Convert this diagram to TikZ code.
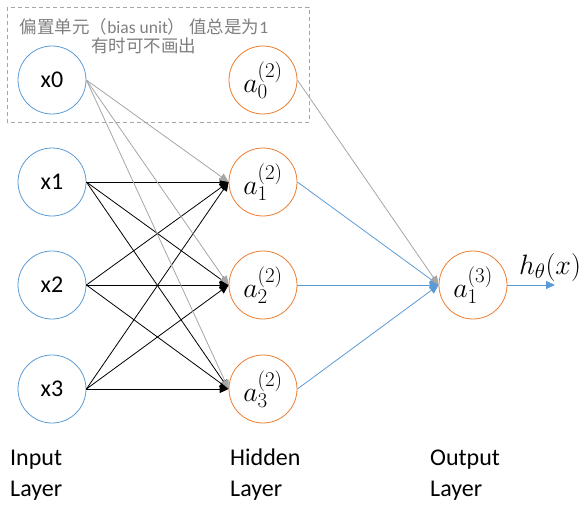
\RequirePackage{fix-cm}
\documentclass[tikz,border=0pt]{standalone}
\usepackage{fontspec}
\setmainfont{Carlito}
\newfontfamily\cjk{Noto Sans CJK SC}
\usetikzlibrary{arrows.meta}
\DeclareMathSizes{28}{28}{21}{16}
\definecolor{inblue}{HTML}{5B9BD5}
\definecolor{hidorange}{HTML}{ED7D31}
\definecolor{biasgray}{HTML}{A6A6A6}
\definecolor{notegray}{HTML}{7F7F7F}

\begin{document}
\begin{tikzpicture}[x=1pt,y=-1pt,
    unit/.style={circle, minimum size=68pt, inner sep=0pt, line width=0.8pt, font=\fontsize{24}{28}\selectfont},
    inunit/.style={unit, draw=inblue},
    hidunit/.style={unit, draw=hidorange, font=\fontsize{28}{32}\selectfont},
    link/.style={line width=0.8pt, -{Triangle[length=9pt,width=8pt]}},
    layername/.style={anchor=west, align=left, inner sep=0pt, font=\fontsize{24}{31}\selectfont}]
    \useasboundingbox (0,0) rectangle (586,508);

    % bias box
    \draw[biasgray, line width=0.8pt, dash pattern=on 4pt off 3pt] (7,7) rectangle (309,122);
    \node[text=notegray, align=center, inner sep=0pt, font=\fontsize{17.5}{19}\selectfont] (note) at (144,36)
      {{\cjk 偏置单元（}bias unit{\cjk ） 值总是为}1\\{\cjk 有时可不画出}};

    % input layer
    \node[inunit] (x0) at (52,80) {x0};
      \node[inunit] (x1) at (52,182) {x1};
      \node[inunit] (x2) at (52,285) {x2};
      \node[inunit] (x3) at (52,389) {x3};

    % hidden layer
    \node[hidunit] (a0) at (263,80) {$a_0^{(2)}$};
      \node[hidunit] (a1) at (263,182) {$a_1^{(2)}$};
      \node[hidunit] (a2) at (263,285) {$a_2^{(2)}$};
      \node[hidunit] (a3) at (263,389) {$a_3^{(2)}$};

    % output layer
    \node[hidunit] (out) at (473,285) {$a_1^{(3)}$};
      \coordinate (hend) at (555,285);
      \node[inner sep=0pt, font=\fontsize{28}{32}\selectfont] (hx) at (550,267) {$h_\theta(x)$};

    % connections
    \foreach \i in {1,2,3}
      \foreach \j in {1,2,3}
        \draw[link] (x\i.east) -- (a\j.west);
    \foreach \j in {1,2,3}
      \draw[link, biasgray] (x0.east) -- (a\j.west);
    \foreach \j in {1,2,3}
      \draw[link, inblue] (a\j.east) -- (out.west);
    \draw[link, biasgray] (a0.east) -- (out.west);
    \draw[link, inblue] (out.east) -- (hend);

    % layer names
    \node[layername] (inname) at (10,475) {Input\\Layer};
      \node[layername] (hidname) at (230,475) {Hidden\\Layer};
      \node[layername] (outname) at (430,475) {Output\\Layer};
  \end{tikzpicture}
\end{document}
